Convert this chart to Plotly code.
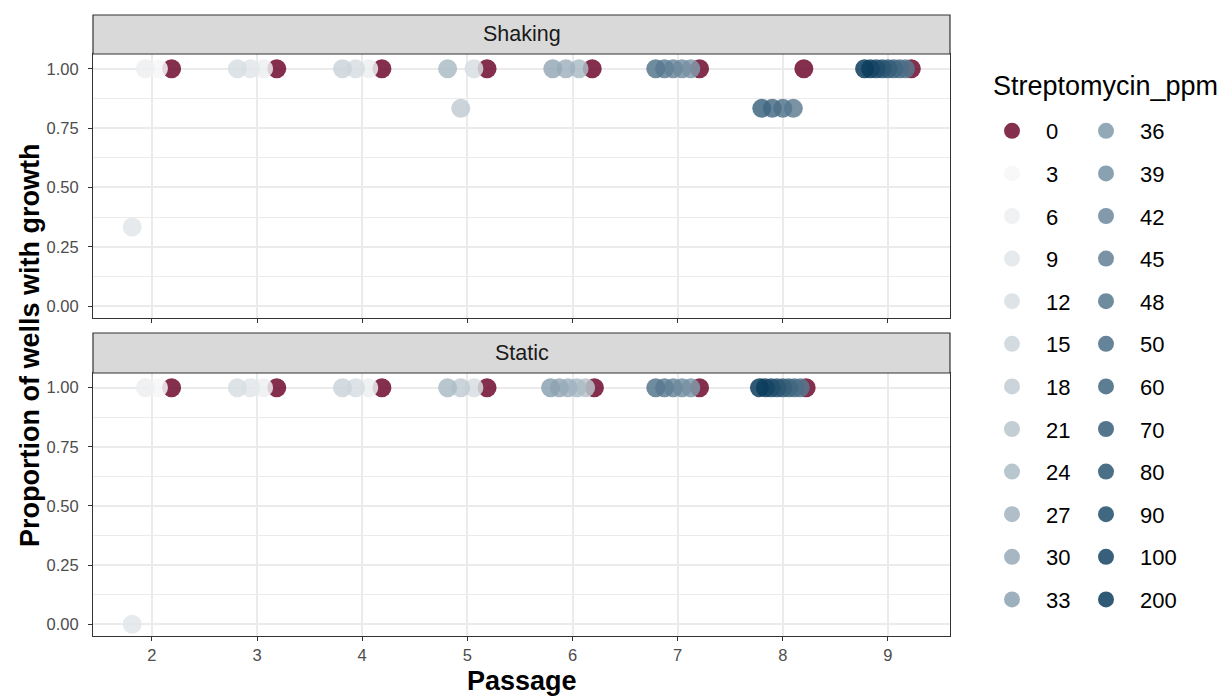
import plotly.graph_objects as go

# ---------------- data ----------------
levels = [0, 3, 6, 9, 12, 15, 18, 21, 24, 27, 30, 33, 36, 39, 42, 45, 48,
          50, 60, 70, 80, 90, 100, 200]

shaking_passage = [2, 2, 2, 2,
                   3, 3, 3, 3,
                   4, 4, 4, 4,
                   5, 5, 5, 5,
                   6, 6, 6, 6,
                   7, 7, 7, 7, 7, 7,
                   8, 8, 8, 8, 8,
                   9, 9, 9, 9, 9, 9, 9, 9, 9]
shaking_conc = [0, 3, 6, 9,
                0, 6, 9, 12,
                0, 6, 12, 15,
                0, 12, 18, 24,
                0, 24, 27, 30,
                0, 36, 39, 42, 45, 48,
                0, 45, 48, 50, 60,
                0, 48, 50, 60, 70, 80, 90, 100, 200]
shaking_prop = [1, 1, 1, 0.333,
                1, 1, 1, 1,
                1, 1, 1, 1,
                1, 1, 0.833, 1,
                1, 1, 1, 1,
                1, 1, 1, 1, 1, 1,
                1, 0.833, 0.833, 0.833, 0.833,
                1, 1, 1, 1, 1, 1, 1, 1, 1]

static_passage = [2, 2, 2, 2,
                  3, 3, 3, 3,
                  4, 4, 4, 4,
                  5, 5, 5, 5,
                  6, 6, 6, 6, 6, 6,
                  7, 7, 7, 7, 7, 7,
                  8, 8, 8, 8, 8, 8, 8, 8, 8]
static_conc = [0, 3, 6, 9,
               0, 6, 9, 12,
               0, 6, 12, 15,
               0, 12, 18, 24,
               0, 21, 24, 27, 30, 33,
               0, 36, 39, 42, 45, 48,
               0, 48, 50, 60, 70, 80, 90, 100, 200]
static_prop = [1, 1, 1, 0,
               1, 1, 1, 1,
               1, 1, 1, 1,
               1, 1, 1, 1,
               1, 1, 1, 1, 1, 1,
               1, 1, 1, 1, 1, 1,
               1, 1, 1, 1, 1, 1, 1, 1, 1]

panels = ["Shaking", "Static"]
x_ticks = [2, 3, 4, 5, 6, 7, 8, 9]
y_ticks = [0, 0.25, 0.5, 0.75, 1.0]
y_tick_text = ["0.00", "0.25", "0.50", "0.75", "1.00"]

# ---------------- styles ----------------
RED = "#6f0a2e"
LIGHT = (247, 247, 247)
DARK = (11, 60, 93)
nz = [lv for lv in levels if lv != 0]
colors = {0: RED}
for i, lv in enumerate(nz):
    t = i / (len(nz) - 1)
    rgb = tuple(round(LIGHT[k] + (DARK[k] - LIGHT[k]) * t) for k in range(3))
    colors[lv] = "rgb(%d,%d,%d)" % rgb

DODGE_W = 0.5


def dodge(passages, concs):
    """position_dodge: groups at each x spread over DODGE_W, higher conc left."""
    xs = []
    for p, c in zip(passages, concs):
        grp = sorted([cc for pp, cc in zip(passages, concs) if pp == p], reverse=True)
        n = len(grp)
        i = grp.index(c)
        xs.append(p - DODGE_W / 2 + (i + 0.5) * DODGE_W / n)
    return xs


panel_data = {
    "Shaking": (shaking_passage, shaking_conc, shaking_prop, "x", "y"),
    "Static": (static_passage, static_conc, static_prop, "x2", "y2"),
}
panel_x = {k: dodge(v[0], v[1]) for k, v in panel_data.items()}

fig = go.Figure()
shown = set()
for idx, lv in enumerate(levels):
    for pname in panels:
        pas, conc, prop, xa, ya = panel_data[pname]
        xd = panel_x[pname]
        xs = [xd[i] for i in range(len(conc)) if conc[i] == lv]
        ys = [prop[i] for i in range(len(conc)) if conc[i] == lv]
        if not xs:
            continue
        show = lv not in shown
        shown.add(lv)
        fig.add_trace(go.Scatter(
            x=xs, y=ys, xaxis=xa, yaxis=ya, mode="markers",
            name=str(lv), legendgroup=str(lv), showlegend=show,
            legend="legend" if idx < 12 else "legend2",
            marker=dict(size=19, color=colors[lv], opacity=0.85, line=dict(width=0)),
        ))

# ---------------- layout ----------------
W, H = 1219, 696
ML, MR, MT, MB = 93, 269, 15, 60
PW, PH = W - ML - MR, H - MT - MB


def py(px):
    return (H - MB - px) / PH


def pxx(px):
    return (px - ML) / PW


top_dom = [py(318), py(54)]
top_strip = [py(54), py(15)]
bot_dom = [py(636), py(373)]
bot_strip = [py(373), py(333)]

xr = [1.44, 9.59]
yr = [-0.05, 1.062]
tickfont = dict(family="Liberation Sans", size=16.5, color="#4d4d4d")

common_x = dict(range=xr, tickvals=x_ticks, showgrid=True, gridcolor="#ebebeb", gridwidth=2,
                zeroline=False, showline=True, mirror=True, linecolor="#333333", linewidth=1.2,
                ticks="outside", ticklen=4, tickcolor="#333333", tickwidth=1.1, tickfont=tickfont)
common_y = dict(range=yr, tickvals=y_ticks, ticktext=y_tick_text, showgrid=True,
                gridcolor="#ebebeb", gridwidth=2,
                minor=dict(tickvals=[0.125, 0.375, 0.625, 0.875], showgrid=True,
                           gridcolor="#ebebeb", gridwidth=1, ticks=""),
                zeroline=False, showline=True, mirror=True, linecolor="#333333", linewidth=1.2,
                ticks="outside", ticklen=4, tickcolor="#333333", tickwidth=1.1, tickfont=tickfont,
                ticklabelstandoff=6)

fig.update_layout(
    width=W, height=H,
    margin=dict(l=ML, r=MR, t=MT, b=MB, autoexpand=False),
    paper_bgcolor="white", plot_bgcolor="white",
    font=dict(family="Liberation Sans", color="#000000"),
    xaxis=dict(domain=[0, 1], anchor="y", showticklabels=False, **common_x),
    yaxis=dict(domain=top_dom, anchor="x", **common_y),
    xaxis2=dict(domain=[0, 1], anchor="y2", **common_x),
    yaxis2=dict(domain=bot_dom, anchor="x2", **common_y),
    legend=dict(x=pxx(978), y=py(110), xanchor="left", yanchor="top",
                font=dict(size=22, color="#000000"), tracegroupgap=11,
                bgcolor="rgba(0,0,0,0)", itemwidth=58),
    legend2=dict(x=pxx(1072), y=py(110), xanchor="left", yanchor="top",
                 font=dict(size=22, color="#000000"), tracegroupgap=11,
                 bgcolor="rgba(0,0,0,0)", itemwidth=58),
    showlegend=True,
)

shapes = []
annotations = []
for dom, label in [(top_strip, "Shaking"), (bot_strip, "Static")]:
    shapes.append(dict(type="rect", xref="paper", yref="paper", x0=0, x1=1, y0=dom[0], y1=dom[1],
                       fillcolor="#d9d9d9", line=dict(color="#333333", width=1.2), layer="above"))
    annotations.append(dict(text=label, xref="paper", yref="paper", x=0.5, y=(dom[0] + dom[1]) / 2,
                            showarrow=False, xanchor="center", yanchor="middle",
                            font=dict(family="Liberation Sans", size=21.5, color="#1a1a1a")))

annotations.append(dict(text="Streptomycin_ppm", xref="paper", yref="paper",
                        x=pxx(991), y=py(86), showarrow=False,
                        xanchor="left", yanchor="middle",
                        font=dict(family="Liberation Sans", size=27, color="#000000")))
annotations.append(dict(text="<b>Proportion of wells with growth</b>", xref="paper", yref="paper",
                        x=pxx(30), y=py(346), textangle=-90, showarrow=False,
                        xanchor="center", yanchor="middle",
                        font=dict(family="Liberation Sans", size=27, color="#000000")))
annotations.append(dict(text="<b>Passage</b>", xref="paper", yref="paper",
                        x=pxx(522), y=py(681), showarrow=False,
                        xanchor="center", yanchor="middle",
                        font=dict(family="Liberation Sans", size=27, color="#000000")))

fig.update_layout(shapes=shapes, annotations=annotations)
fig.write_html("out.html", config={"displayModeBar": False},
               post_script="document.body.style.margin='0';document.body.style.overflow='hidden';")
